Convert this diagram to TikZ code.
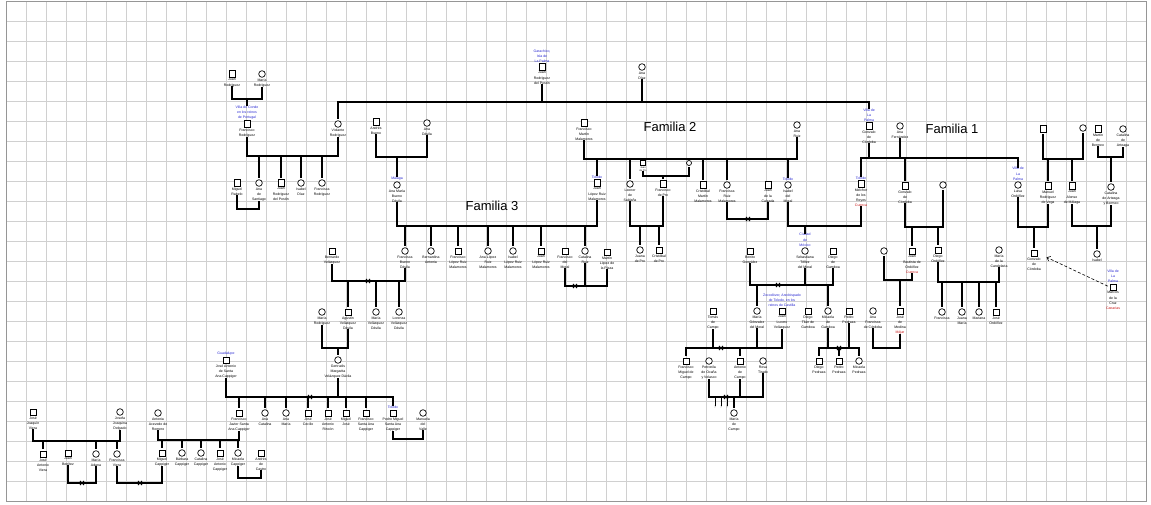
\documentclass[tikz,border=0pt]{standalone}
\usepackage{fontspec}
\setmainfont{Liberation Sans}
\usetikzlibrary{shapes.misc,arrows.meta}
\definecolor{placeblue}{RGB}{40,40,210}
\definecolor{placered}{RGB}{200,20,20}
\definecolor{gridgray}{RGB}{208,208,208}
\definecolor{framegray}{RGB}{150,150,150}
\tikzset{
 male/.style={draw=black, line width=0.7pt, rectangle, minimum size=6.3pt, inner sep=0pt, fill=white},
 female/.style={draw=black, line width=0.7pt, circle, minimum size=6.6pt, inner sep=0pt, fill=white},
 lbl/.style={font=\fontsize{3.5}{5.2}\selectfont, align=center, inner sep=0pt, text=black},
 blu/.style={font=\fontsize{3.5}{5.2}\selectfont, align=center, inner sep=0pt, text=placeblue},
 rel/.style={line width=1.1pt, black, line cap=rect},
 xm/.style={cross out, draw=black, line width=0.8pt, minimum size=3.4pt, inner sep=0pt},
 fam/.style={font=\fontsize{13}{15}\selectfont, inner sep=0pt},
 gridl/.style={draw=gridgray, line width=0.6pt},
}
\newcommand\Pers[6]{%
 \node[#1] (#2) at (#3,#4) {};
 \node[lbl,anchor=north] (#2L) at ([yshift=-0.8pt]#2.south) {#5};
 \node[blu,anchor=south] (#2B) at ([yshift=0.8pt]#2.north) {#6};
}
\newcommand\SetY[1]{\coordinate (Y) at (0,#1);}
\newcommand\Vd[2]{\SetY{#2}\draw[rel] (#1L.south) -- (#1L.south |- Y);}
\newcommand\Kid[2]{\SetY{#2}\draw[rel] (#1B.north |- Y) -- (#1B.north);}
\newcommand\Hl[3]{\SetY{#3}\draw[rel] (#1 |- Y) -- (#2 |- Y);}
\newcommand\Cpl[3]{\Vd{#1}{#3}\Vd{#2}{#3}\Hl{#1}{#2}{#3}}
\begin{document}
\begin{tikzpicture}[x=1pt,y=-1pt]
\useasboundingbox (0,0) rectangle (1151,505);
\fill[white] (0,0) rectangle (1151,505);
% grid
\foreach \i in {0,...,57} {\draw[gridl] ({6.7+20*\i},1.7) -- ({6.7+20*\i},501.7);}
\foreach \j in {0,...,25} {\draw[gridl] (6.7,{1.7+20*\j}) -- (1146.7,{1.7+20*\j});}
\draw[framegray, line width=1pt] (6.7,1.7) rectangle (1146.7,501.7);

% family titles
\node[fam] (fam2) at (670,127) {Familia 2};
\node[fam] (fam1) at (952,129) {Familia 1};
\node[fam] (fam3) at (492,206) {Familia 3};

% ---- people ----
\Pers{male}{jrod}{232}{74}{Juan\\Rodríguez}{}
\Pers{female}{mrod}{262}{74}{María\\Rodríguez}{}
\Pers{male}{frod}{247}{124}{Francisco\\Rodríguez}{Villa do Conde\\en los reinos\\de Portugal}
\Pers{female}{vrod}{338}{124}{Violante\\Rodríguez}{}
\Pers{male}{jpos}{542}{67}{Juan\\Rodríguez\\del Postín}{Garachico,\\Isla de\\La Palma}
\Pers{female}{adiaz}{642}{67}{Ana\\Díaz}{}
\Pers{male}{abue}{376}{122}{Andrés\\Bueno}{}
\Pers{female}{adav}{427}{123}{Ana\\Dávila}{}
\Pers{male}{fmm}{584}{123}{Francisco\\Martín\\Malamoros}{}
\Pers{female}{aruiz}{797}{125}{Ana\\Ruiz}{}
\Pers{male}{gcora}{869}{126}{Gonzalo\\de\\Córdoba}{Villa de\\La\\Palma}
\Pers{female}{afer}{900}{126}{Ana\\Fernández}{}
\Pers{male}{ua}{1043}{129}{}{}
\Pers{female}{ub}{1083}{128}{}{}
\Pers{male}{mber}{1098}{129}{Martín\\de\\Bermeo}{}
\Pers{female}{cart}{1123}{129}{Catalina\\de\\Arteaga}{}

\node[male,minimum size=5pt] (jpro) at (643,163) {};
\node[lbl,font=\fontsize{2.4}{3}\selectfont,anchor=north] (jproL) at ([yshift=-0.6pt]jpro.south) {Juan\\de Pro};
\node[blu,anchor=south] (jproB) at (jpro.north) {};
\node[female,minimum size=5pt] (upro) at (689,163) {};
\node[lbl,anchor=north] (uproL) at (upro.south) {};
\node[blu,anchor=south] (uproB) at (upro.north) {};

\Pers{male}{mrab}{237}{183}{Miguel\\Rabelo}{}
\Pers{female}{asan}{259}{183}{Ana\\de\\Santiago}{}
\Pers{male}{jrp}{281}{183}{Juan\\Rodríguez\\del Postín}{}
\Pers{female}{idiaz}{301}{183}{Isabel\\Díaz}{}
\Pers{female}{frodz}{322}{183}{Francisca\\Rodríguez}{}
\Pers{female}{amb}{397}{185}{Ana María\\Bueno\\Dávila}{Málaga}
\Pers{male}{jlrm}{597}{183}{Juan\\López Ruiz\\Malamoros}{Toledo}
\Pers{female}{lsal}{630}{184}{Leonor\\de\\Saldaña}{}
\Pers{male}{fpro}{663}{184}{Francisco\\de Pro}{}
\Pers{male}{cmm}{703}{185}{Cristóbal\\Martín\\Malamoros}{}
\Pers{female}{frm}{727}{185}{Francisca\\Ruiz\\Malamoros}{}
\Pers{male}{jcal}{768}{185}{Juan\\de la\\Calzada}{}
\Pers{female}{imor}{788}{185}{Isabel\\del\\Moral}{Toledo}
\Pers{male}{mrey}{861}{184}{Melchor\\de los\\Reyes\\\textcolor{placered}{Cuenca}}{Toledo}
\Pers{male}{gcorb}{905}{186}{Gonzalo\\de\\Córdoba}{}
\Pers{female}{uw}{943}{185}{}{}
\Pers{female}{lord}{1018}{185}{Luisa\\Ordóñez}{Villa de\\La\\Palma}
\Pers{male}{mrv}{1048}{186}{Manuel\\Rodríguez\\de Vega}{}
\Pers{male}{jam}{1072}{186}{Juan\\Alonso\\de Málaga}{}
\Pers{female}{caby}{1111}{187}{Catalina\\de Arteaga\\y Bermeo}{}

\Pers{female}{fbd}{405}{251}{Francisca\\Bueno\\Dávila}{}
\Pers{female}{bant}{431}{251}{Bernardina\\Antonia}{}
\Pers{male}{flrm}{458}{251}{Francisco\\López Ruiz\\Malamoros}{}
\Pers{female}{alrm}{488}{251}{Ana López\\Ruiz\\Malamoros}{}
\Pers{female}{ilrm}{513}{251}{Isabel\\López Ruiz\\Malamoros}{}
\Pers{male}{jlrmb}{541}{251}{Juan\\López Ruiz\\Malamoros}{}
\Pers{male}{fmor}{565}{251}{Francisco\\del\\Moral}{}
\Pers{female}{cruiz}{585}{251}{Catalina\\Ruiz}{}
\Pers{male}{mlp}{607}{252}{Martín\\López de\\la Plaza}{}
\Pers{female}{jupro}{640}{250}{Juana\\de Pro}{}
\Pers{male}{cpro}{659}{250}{Cristóbal\\de Pro}{}
\Pers{male}{bvel}{332}{251}{Bernardo\\Velázquez}{}
\Pers{male}{bgon}{750}{251}{Benito\\González}{}
\Pers{female}{stm}{805}{251}{Sebastiana\\Téllez\\del Moral}{Ciudad\\de\\México}
\Pers{male}{dgam}{833}{251}{Diego\\de\\Gamboa}{}
\Pers{female}{uwb}{884}{251}{}{}
\Pers{male}{jbo}{912}{251}{Juan\\Bautista de\\Ordóñez\\\textcolor{placered}{Cuenca}}{}
\Pers{male}{dord}{938}{250}{Diego\\Ordóñez}{}
\Pers{female}{mcan}{999}{250}{María\\de la\\Candelaria}{}
\Pers{male}{gcorc}{1034}{253}{Gonzalo\\de\\Córdoba}{}
\Pers{female}{isab}{1097}{254}{Isabel}{}
\Pers{male}{mcruz}{1113}{287}{Marcos\\de la\\Cruz\\\textcolor{placered}{Canarias}}{Villa de\\La\\Palma}

\Pers{female}{mrodb}{322}{312}{María\\Rodríguez}{}
\Pers{male}{avd}{348}{312}{Agustín\\Velázquez\\Dávila}{}
\Pers{female}{mvd}{376}{312}{María\\Velázquez\\Dávila}{}
\Pers{female}{lvd}{399}{312}{Lorenza\\Velázquez\\Dávila}{}
\Pers{male}{tcam}{713}{311}{Tomás\\de\\Campo}{}
\Pers{female}{mgm}{757}{311}{María\\Gónzalez\\del Moral}{}
\Pers{male}{jlv}{782}{311}{Juan\\Lucero\\Velázquez}{Zocodóver, Arzobispado\\de Toledo, en los\\reinos de Castilla}
\Pers{male}{dtg}{808}{311}{Diego\\Tilán de\\Gamboa}{}
\Pers{female}{mgam}{828}{311}{Micaela\\de\\Gamboa}{}
\Pers{male}{ppe}{849}{311}{Pedro\\Pedraza}{}
\Pers{female}{afc}{873}{311}{Ana\\Francisca\\de Córdoba}{}
\Pers{male}{jmed}{900}{311}{José\\de\\Medina\\\textcolor{placered}{Méjar}}{}
\Pers{female}{fra}{942}{312}{Francisca}{}
\Pers{female}{jmar}{962}{312}{Juana\\María}{}
\Pers{female}{mar}{979}{312}{Mariana}{}
\Pers{male}{jord}{996}{312}{José\\Ordóñez}{}

\Pers{male}{jasa}{226}{360}{José Antonio\\de Santa\\Ana Cappiger}{Guadalupe}
\Pers{female}{gmvd}{338}{360}{Gertrudis\\Margarita\\Velázquez Dávila}{}
\Pers{male}{fmc}{686}{361}{Francisco\\Miguel de\\Campo}{}
\Pers{female}{pxv}{709}{361}{Petronila\\de Ocaña\\y Velasco}{}
\Pers{male}{acam}{740}{361}{Antonio\\de\\Campo}{}
\Pers{female}{rtir}{763}{361}{Rosa\\Tirado}{}
\Pers{male}{dped}{819}{361}{Diego\\Pedraza}{}
\Pers{male}{pped}{839}{361}{Pedro\\Pedraza}{}
\Pers{female}{mped}{859}{361}{Micaela\\Pedraza}{}

\Pers{male}{fjs}{239}{413}{Francisco\\Javier Santa\\Ana Cappiger}{}
\Pers{female}{acat}{265}{413}{Ana\\Catalina}{}
\Pers{female}{amar}{286}{413}{Ana\\María}{}
\Pers{male}{jcec}{308}{413}{José\\Cecilio}{}
\Pers{male}{jar}{328}{413}{José\\Antonio\\Rincón}{}
\Pers{male}{mjos}{346}{413}{Miguel\\José}{}
\Pers{male}{fsac}{366}{413}{Francisco\\Santa Ana\\Cappiger}{}
\Pers{male}{pmsa}{393}{413}{Pedro Miguel\\Santa Ana\\Cappiger}{Toledo}
\Pers{female}{mval}{423}{413}{Manuela\\del\\Valle}{}
\Pers{female}{mcam}{734}{413}{María\\de\\Campo}{}
\Pers{male}{jjv}{33}{412}{José\\Joaquín\\Viera}{}
\Pers{female}{jjd}{120}{412}{Josefa\\Joaquina\\Delgado}{}
\Pers{female}{aar}{158}{413}{Antonia\\Acevedo de\\Romero}{}

\Pers{male}{javi}{43}{454}{José\\Antonio\\Viera}{}
\Pers{male}{jben}{68}{453}{Juan\\Benítez}{}
\Pers{female}{mada}{96}{454}{María\\Adana}{}
\Pers{female}{fvie}{117}{454}{Francisca\\Viera}{}
\Pers{male}{mcap}{162}{453}{Miguel\\Cappiger}{}
\Pers{female}{bcap}{182}{453}{Bárbara\\Cappiger}{}
\Pers{female}{ccap}{201}{453}{Catalina\\Cappiger}{}
\Pers{male}{jacap}{220}{453}{José\\Antonio\\Cappiger}{}
\Pers{female}{micap}{238}{453}{Micaela\\Cappiger}{}
\Pers{male}{acas}{261}{453}{Andrés\\de\\Castro}{}

% ---- relations ----
\Cpl{jrod}{mrod}{99}\Kid{frod}{99}
\Vd{jpos}{102}\Vd{adiaz}{102}\Hl{vrod}{gcora}{102}\Kid{vrod}{102}\Kid{gcora}{102}
\Cpl{frod}{vrod}{156}\Kid{asan}{156}\Kid{jrp}{156}\Kid{idiaz}{156}\Kid{frodz}{156}
\Cpl{mrab}{asan}{209}
\Cpl{abue}{adav}{157}\Kid{amb}{157}
\Cpl{fmm}{aruiz}{159}\Kid{jlrm}{159}\Kid{lsal}{159}\Kid{cmm}{159}\Kid{frm}{159}\Kid{imor}{159}
\Cpl{jpro}{upro}{176}\Kid{fpro}{176}
\Cpl{lsal}{fpro}{226}\Kid{jupro}{226}\Kid{cpro}{226}
\Cpl{frm}{jcal}{219}\node[xm] (xa) at (748,219) {};
\Cpl{imor}{mrey}{226}\Kid{stm}{226}
\Vd{gcora}{158}\Vd{afer}{158}\Hl{mrey}{lord}{158}\Kid{mrey}{158}\Kid{gcorb}{158}\Kid{lord}{158}
\Cpl{ua}{ub}{159}\Kid{mrv}{159}\Kid{jam}{159}
\Cpl{mber}{cart}{157}\Kid{caby}{157}
\Cpl{amb}{jlrm}{226}\Kid{fbd}{226}\Kid{bant}{226}\Kid{flrm}{226}\Kid{alrm}{226}\Kid{ilrm}{226}\Kid{jlrmb}{226}\Kid{cruiz}{226}
\Vd{fmor}{286}\Vd{cruiz}{286}\Vd{mlp}{286}\Hl{fmor}{mlp}{286}\node[xm] (xb) at (575,286) {};
\Cpl{gcorb}{uw}{227}\Kid{jbo}{227}\Kid{dord}{227}
\Cpl{lord}{mrv}{227}\Kid{gcorc}{227}
\Cpl{jam}{caby}{226}\Kid{isab}{226}
\Cpl{dord}{mcan}{282}\Kid{fra}{282}\Kid{jmar}{282}\Kid{mar}{282}\Kid{jord}{282}
\Cpl{uwb}{jbo}{280}\Kid{jmed}{280}
\Vd{bgon}{285}\Vd{stm}{285}\Vd{dgam}{285}\Hl{bgon}{dgam}{285}\node[xm] (xc) at (778,285) {};
\Kid{mgm}{285}\Kid{mgam}{285}
\Cpl{bvel}{fbd}{281}\node[xm] (xd) at (368,281) {};
\Kid{avd}{281}\Kid{mvd}{281}\Kid{lvd}{281}
\Cpl{mrodb}{avd}{348}\Kid{gmvd}{348}
\Vd{tcam}{348}\Vd{mgm}{348}\Vd{jlv}{348}\Hl{fmc}{jlv}{348}\node[xm] (xe) at (721,348) {};
\Kid{fmc}{348}\Kid{acam}{348}
\Vd{mgam}{348}\Vd{ppe}{348}\Hl{dped}{mped}{348}\node[xm] (xf) at (839,348) {};
\Kid{dped}{348}\Kid{pped}{348}\Kid{mped}{348}
\Cpl{afc}{jmed}{348}
\Vd{pxv}{397}\Vd{acam}{397}\Vd{rtir}{397}\Hl{pxv}{rtir}{397}
\node[lbl,text=gray,anchor=north] (qa) at (715,406) {?};
\node[lbl,text=gray,anchor=north] (qb) at (721,406) {?};
\node[lbl,text=gray,anchor=north] (qc) at (727,406) {?};
\SetY{397}
\draw[rel,line width=0.7pt] (qa.north |- Y) -- (qa.north);
\draw[rel,line width=0.7pt] (qb.north |- Y) -- (qb.north);
\draw[rel,line width=0.7pt] (qc.north |- Y) -- (qc.north);
\node[xm] (xg) at (726,397) {};
\Kid{mcam}{397}
\Vd{jasa}{397}\Vd{gmvd}{397}\Hl{jasa}{pmsa}{397}\node[xm] (xh) at (310,397) {};
\Kid{fjs}{397}\Kid{acat}{397}\Kid{amar}{397}\Kid{jcec}{397}\Kid{jar}{397}\Kid{mjos}{397}\Kid{fsac}{397}\Kid{pmsa}{397}
\Cpl{pmsa}{mval}{439}
\Vd{aar}{440}\Vd{fjs}{440}\Hl{aar}{fjs}{440}
\Kid{mcap}{440}\Kid{bcap}{440}\Kid{ccap}{440}\Kid{jacap}{440}\Kid{micap}{440}
\Cpl{micap}{acas}{478}
\Vd{jjv}{441}\Vd{jjd}{441}\Hl{jjv}{jjd}{441}\Kid{javi}{441}\Kid{mada}{441}\Kid{fvie}{441}
\Cpl{jben}{mada}{483}\node[xm] (xi) at (82,483) {};
\Cpl{fvie}{mcap}{483}\node[xm] (xj) at (140,483) {};

\draw[densely dashed, line width=0.6pt, -{Straight Barb[length=3pt,width=5pt]}, shorten >=10pt, shorten <=2pt] (mcruz.west) -- (gcorc.east);
\end{tikzpicture}
\end{document}
